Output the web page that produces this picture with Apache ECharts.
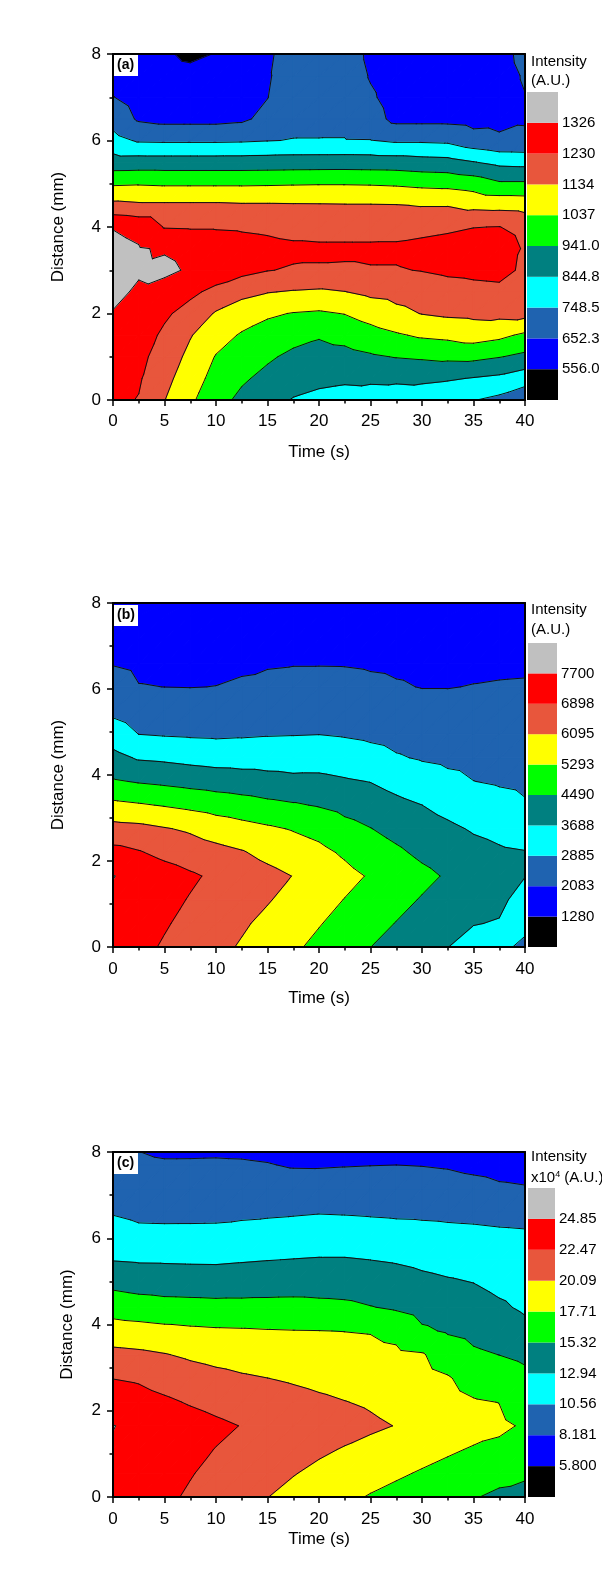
<!DOCTYPE html>
<html><head><meta charset="utf-8">
<script src="https://cdn.jsdelivr.net/npm/echarts@6.0.0/dist/echarts.min.js"></script>
<style>html,body{margin:0;padding:0;background:#fff}#chart{width:602px;height:1576px}</style>
</head><body><div id="chart"></div>
<script>
// ---------------- DATA ----------------
const timeS = [0,2.5,5,7.5,10,12.5,15,17.5,20,22.5,25,27.5,30,32.5,35,37.5,40];
const distanceA = [0,0.5,1,1.5,2,2.5,3,3.5,4,4.5,5,5.5,6,6.5,7,7.5,8];
const distanceBC = [0,0.55,1.1,1.65,2.2,2.75,3.3,3.85,4.4,4.95,5.5,6.05,6.6,7.15,7.7,8];

// each inner array: one time column, values along distance (bottom -> top)
const intensityA = [
[1250,1265,1280,1300,1322,1345,1362,1352,1322,1160,1025,886,780,712,655,625,600],
[1226,1240,1255,1275,1295,1315,1335,1332,1300,1150,1030,888,738,640,612,592,572],
[1136,1162,1188,1213,1245,1290,1345,1318,1225,1150,1025,888,735,625,605,578,563],
[1053,1082,1110,1140,1195,1250,1315,1300,1222,1150,1025,888,735,625,600,572,545],
[977,1005,1032,1075,1125,1205,1285,1285,1222,1150,1025,888,735,625,603,578,558],
[918,955,993,1028,1085,1160,1258,1270,1218,1145,1025,888,738,635,615,600,590],
[873,915,955,1000,1050,1138,1233,1260,1210,1145,1027,890,745,680,650,640,628],
[840,878,920,973,1033,1127,1222,1250,1195,1143,1030,892,752,720,712,715,722],
[826,862,905,950,1025,1120,1222,1245,1195,1142,1032,893,752,722,718,720,725],
[820,855,912,970,1040,1132,1220,1245,1195,1140,1032,894,752,725,718,715,712],
[810,858,930,1000,1075,1155,1225,1245,1195,1140,1030,892,751,690,665,645,630],
[800,860,945,1027,1110,1165,1225,1245,1198,1138,1025,890,735,628,615,607,600],
[785,865,953,1050,1137,1180,1233,1255,1205,1130,1015,880,735,628,615,605,600],
[770,855,962,1060,1150,1195,1245,1265,1215,1130,1010,875,730,628,612,603,598],
[752,840,965,1080,1155,1205,1250,1275,1228,1110,995,848,690,620,612,603,600],
[725,825,945,1060,1160,1210,1255,1278,1232,1105,955,820,670,625,618,620,625],
[680,790,920,1020,1165,1195,1215,1220,1200,1100,955,815,668,645,650,660,675]
];
const intensityB = [
[7350,7473,7597,7720,7140,6363,5482,4574,3933,3261,2717,2361,2049,1892,1735,1650],
[7088,7219,7350,7481,6955,6302,5369,4430,3608,2878,2491,2104,1960,1830,1700,1630],
[6824,6963,7103,7242,6697,6145,5242,4332,3545,2824,2454,2080,1950,1830,1700,1620],
[6560,6708,6855,7003,6505,5985,5105,4223,3449,2787,2429,2070,1945,1825,1700,1620],
[6296,6454,6612,6770,6323,5740,4956,4130,3370,2763,2426,2090,1950,1830,1705,1630],
[6022,6195,6367,6540,6152,5564,4832,4048,3351,2797,2472,2148,2000,1860,1730,1650],
[5718,5916,6150,6311,5886,5406,4680,3955,3347,2837,2543,2249,2024,1890,1755,1680],
[5414,5635,5857,6078,5671,5244,4564,3876,3327,2855,2577,2300,2050,1900,1765,1690],
[5108,5337,5565,5794,5484,5055,4439,3873,3358,2875,2596,2316,2050,1900,1765,1690],
[4799,5036,5273,5510,5185,4730,4258,3768,3268,2823,2558,2294,2045,1900,1760,1690],
[4495,4739,4983,5227,4868,4510,4093,3669,3137,2746,2482,2217,2010,1880,1750,1680],
[4226,4468,4710,4952,4618,4255,3875,3438,2947,2657,2396,2135,1980,1860,1740,1680],
[3962,4200,4439,4677,4337,4012,3690,3233,2825,2572,2318,2065,1950,1840,1730,1670],
[3699,3937,4174,4412,4117,3822,3463,3050,2748,2519,2291,2065,1945,1835,1725,1665],
[3377,3720,3904,4167,3904,3622,3257,2892,2692,2495,2298,2101,1960,1840,1720,1660],
[3054,3640,3850,3923,3771,3510,3120,2816,2644,2471,2299,2127,1975,1845,1720,1655],
[2730,3068,3393,3705,3715,3391,2949,2754,2600,2446,2293,2139,1990,1855,1725,1655]
];
const intensityC = [ // x10^4
[24.27,24.48,24.69,24.9,23.69,22.44,20.72,18.75,16.73,14.78,12.85,11.59,10.42,9.62,8.83,8.40],
[23.58,23.85,24.13,24.4,23.35,22.2,20.52,18.57,16.41,14.43,12.71,11.16,10.08,9.30,8.53,8.20],
[22.89,23.23,23.56,23.9,22.84,21.57,20.19,18.33,16.16,14.29,12.69,11.13,10.04,9.21,8.39,7.95],
[22.19,22.59,22.99,23.39,22.29,21.07,19.76,18.13,16.08,14.25,12.64,11.13,10.05,9.23,8.40,7.95],
[21.45,21.93,22.41,22.89,21.83,20.69,19.42,17.99,15.99,14.2,12.62,11.15,10.07,9.24,8.42,7.98],
[20.81,21.34,21.88,22.41,21.38,20.35,19.17,17.93,15.98,14.27,12.76,11.34,10.16,9.27,8.39,7.93],
[20.12,20.75,21.38,22.01,21.06,20.11,18.97,17.83,15.99,14.36,12.89,11.51,10.25,9.26,8.27,7.80],
[19.47,20.19,20.9,21.62,20.76,19.86,18.81,17.77,16.01,14.43,12.99,11.65,10.35,9.18,8.02,7.55],
[18.82,19.62,20.42,21.22,20.44,19.58,18.66,17.74,15.89,14.41,13.08,11.77,10.47,9.24,8.0,7.5],
[18.18,19.06,19.95,20.83,20.14,19.33,18.51,17.68,15.77,14.35,13.08,11.74,10.41,9.24,8.08,7.55],
[17.56,18.52,19.48,20.44,19.85,19.12,18.4,17.59,15.4,14.15,12.93,11.6,10.32,9.23,8.14,7.6],
[17.03,18.03,19.03,20.03,19.41,18.79,18.16,17.07,15.03,13.9,12.75,11.44,10.23,9.2,8.18,7.65],
[16.5,17.51,18.53,19.54,18.99,18.45,17.9,15.66,14.46,13.5,12.46,11.3,10.19,9.16,8.12,7.6],
[15.97,17.0,18.02,19.05,18.47,17.9,16.59,15.1,14.16,13.21,12.2,11.16,10.12,9.05,7.99,7.45],
[15.45,16.49,17.52,18.56,17.9,16.86,15.67,14.7,13.83,12.96,12.02,11.09,10.04,8.84,7.7,7.2],
[14.92,15.97,17.3,18.06,17.68,16.46,15.3,14.29,13.26,12.43,11.7,10.96,9.91,8.47,7.5,7.05],
[14.3,15.8,16.8,17.5,16.68,15.87,14.88,13.55,12.62,12.04,11.45,10.87,9.84,8.32,7.4,7.0]
];
const levelsA = [556.0,652.3,748.5,844.8,941.0,1037,1134,1230,1326];
const levelLabelsA = ['556.0','652.3','748.5','844.8','941.0','1037','1134','1230','1326'];
const levelsB = [1280,2083,2885,3688,4490,5293,6095,6898,7700];
const levelLabelsB = ['1280','2083','2885','3688','4490','5293','6095','6898','7700'];
const levelsC = [5.800,8.181,10.56,12.94,15.32,17.71,20.09,22.47,24.85];
const levelLabelsC = ['5.800','8.181','10.56','12.94','15.32','17.71','20.09','22.47','24.85'];
const panelTags = ['(a)','(b)','(c)'];
const unitTexts = ['{n|(A.U.)}','{n|(A.U.)}','{n|x10}{s|4}{n| (A.U.)}'];
const bandColors = ['#000000','#0000ff','#1f63b0','#00ffff','#008080','#00ff00','#ffff00','#e8563c','#ff0000','#c0c0c0'];

// ---------------- LAYOUT ----------------
const FONT = "'Liberation Sans', Arial, sans-serif";
const layout = [
 {top:54, height:346, cbLeft:527, cbWidth:31, cbTop:92, cbHeight:308, textTop:54, unitTop:73, xNameGap:44, yNameGap:46, xLabelMargin:13, tagTop:55},
 {top:603, height:344, cbLeft:528, cbWidth:29, cbTop:643, cbHeight:304, textTop:602, unitTop:622, xNameGap:43, yNameGap:46, xLabelMargin:14, tagTop:605},
 {top:1152, height:345, cbLeft:528, cbWidth:27, cbTop:1188, cbHeight:309, textTop:1149, unitTop:1170, xNameGap:34, yNameGap:37, xLabelMargin:14, tagTop:1153}
];
const panels = [
 {times:timeS, dists:distanceA, z:intensityA, levels:levelsA, labels:levelLabelsA},
 {times:timeS, dists:distanceBC, z:intensityB, levels:levelsB, labels:levelLabelsB},
 {times:timeS, dists:distanceBC, z:intensityC, levels:levelsC, labels:levelLabelsC}
];

// ---------------- CONTOUR HELPERS ----------------
function bandIndex(v, levels){ let k=0; while(k<levels.length && v>=levels[k]) k++; return k; }
function clip(poly, c, s){
  const out=[];
  for(let n=0;n<poly.length;n++){
    const A=poly[n], B=poly[(n+1)%poly.length];
    const da=s*(A.f-c), db=s*(B.f-c);
    if(da>=0) out.push(A);
    if((da>=0)!==(db>=0)){ const t=da/(da-db); out.push({x:A.x+t*(B.x-A.x), y:A.y+t*(B.y-A.y), f:c}); }
  }
  return out;
}
function triangles(P, i, j){
  const V=(a,b)=>({x:P.times[a], y:P.dists[b], f:P.z[a][b]});
  return [[V(i,j),V(i+1,j),V(i+1,j+1)],[V(i,j),V(i+1,j+1),V(i,j+1)]];
}
function cells(P){
  const out=[];
  for(let i=0;i<P.times.length-1;i++) for(let j=0;j<P.dists.length-1;j++) out.push([P.times[i],P.dists[j],i,j]);
  return out;
}
function fillRender(P){
  return function(params, api){
    const i=api.value(2), j=api.value(3), children=[];
    triangles(P,i,j).forEach(tri=>{
      const fs=tri.map(p=>p.f);
      const k0=bandIndex(Math.min.apply(null,fs),P.levels), k1=bandIndex(Math.max.apply(null,fs),P.levels);
      for(let k=k0;k<=k1;k++){
        let poly=tri;
        if(k>0) poly=clip(poly,P.levels[k-1],1);
        if(k<P.levels.length) poly=clip(poly,P.levels[k],-1);
        if(poly.length<3) continue;
        children.push({type:'polygon', shape:{points:poly.map(p=>api.coord([p.x,p.y]))},
          style:{fill:bandColors[k], stroke:bandColors[k], lineWidth:1.1, lineJoin:'round'}});
      }
    });
    return {type:'group', children};
  };
}
function lineRender(P){
  return function(params, api){
    const i=api.value(2), j=api.value(3), children=[];
    triangles(P,i,j).forEach(tri=>{
      P.levels.forEach(L=>{
        const pts=[];
        for(let n=0;n<3;n++){
          const A=tri[n], B=tri[(n+1)%3];
          if((A.f<L)!==(B.f<L)){ const t=(L-A.f)/(B.f-A.f); pts.push(api.coord([A.x+t*(B.x-A.x), A.y+t*(B.y-A.y)])); }
        }
        if(pts.length===2) children.push({type:'line', shape:{x1:pts[0][0],y1:pts[0][1],x2:pts[1][0],y2:pts[1][1]},
          style:{stroke:'#111', lineWidth:1, lineCap:'round'}});
      });
    });
    return {type:'group', children};
  };
}

// ---------------- OPTION ----------------
const grid=[], xAxis=[], yAxis=[], series=[], graphic=[];
const axisLineStyle={onZero:false, lineStyle:{color:'#000', width:2}};
layout.forEach((L,p)=>{
  grid.push({left:113, width:412, top:L.top, height:L.height, outerBoundsMode:'none'});
});
layout.forEach((L,p)=>{
  grid.push({left:L.cbLeft, width:L.cbWidth, top:L.cbTop, height:L.cbHeight, outerBoundsMode:'none'});
});
layout.forEach((L,p)=>{
  xAxis.push({gridIndex:p, type:'value', min:0, max:40, interval:5, position:'bottom', z:10,
    axisLine:axisLineStyle,
    axisTick:{show:true, inside:false, length:6, lineStyle:{color:'#000', width:1.5}},
    minorTick:{show:true, splitNumber:2, length:3.5, lineStyle:{color:'#000', width:1.5}},
    splitLine:{show:false}, minorSplitLine:{show:false},
    axisLabel:{color:'#000', fontSize:17, fontFamily:FONT, margin:L.xLabelMargin},
    name:'Time (s)', nameLocation:'middle', nameGap:L.xNameGap,
    nameTextStyle:{color:'#000', fontSize:17, fontFamily:FONT}});
});
layout.forEach((L,p)=>{
  xAxis.push({gridIndex:p, type:'value', min:0, max:40, position:'top', z:10, axisLine:axisLineStyle,
    axisTick:{show:false}, axisLabel:{show:false}, splitLine:{show:false}});
});
layout.forEach((L,p)=>{
  xAxis.push({gridIndex:3+p, type:'category', data:['I'], show:false});
});
layout.forEach((L,p)=>{
  yAxis.push({gridIndex:p, type:'value', min:0, max:8, interval:2, position:'left', z:10,
    axisLine:axisLineStyle,
    axisTick:{show:true, inside:false, length:6, lineStyle:{color:'#000', width:1.5}},
    minorTick:{show:true, splitNumber:2, length:3.5, lineStyle:{color:'#000', width:1.5}},
    splitLine:{show:false}, minorSplitLine:{show:false},
    axisLabel:{color:'#000', fontSize:17, fontFamily:FONT, margin:12},
    name:'Distance (mm)', nameLocation:'middle', nameRotate:90, nameGap:L.yNameGap,
    nameTextStyle:{color:'#000', fontSize:17, fontFamily:FONT}});
});
layout.forEach((L,p)=>{
  yAxis.push({gridIndex:p, type:'value', min:0, max:8, position:'right', z:10, axisLine:axisLineStyle,
    axisTick:{show:false}, axisLabel:{show:false}, splitLine:{show:false}});
});
layout.forEach((L,p)=>{
  const labels=panels[p].labels;
  yAxis.push({gridIndex:3+p, type:'value', min:0, max:10, interval:1, position:'right',
    axisLine:{show:false}, axisTick:{show:false}, splitLine:{show:false},
    axisLabel:{color:'#000', fontSize:15, fontFamily:FONT, margin:4, padding:[5,0,0,0],
      formatter:v=>(v>=1&&v<=9)?labels[v-1]:''}});
});
panels.forEach((P,p)=>{
  const data=cells(P);
  series.push({type:'custom', xAxisIndex:p, yAxisIndex:p, data, encode:{x:0,y:1}, z:2, silent:true, renderItem:fillRender(P)});
  series.push({type:'custom', xAxisIndex:p, yAxisIndex:p, data, encode:{x:0,y:1}, z:3, silent:true, renderItem:lineRender(P)});
  bandColors.forEach((c,k)=>{
    series.push({type:'bar', xAxisIndex:6+p, yAxisIndex:6+p, stack:'cb'+p, data:[1], barWidth:'100%',
      itemStyle:{color:c}, silent:true});
  });
});
layout.forEach((L,p)=>{
  graphic.push({type:'text', left:531, top:L.textTop, z:100, style:{text:'Intensity', font:'15px '+FONT, fill:'#000'}});
  graphic.push({type:'text', left:531, top:L.unitTop, z:100, style:{text:unitTexts[p], fill:'#000',
    rich:{n:{fontSize:15, fontFamily:FONT, fill:'#000', color:'#000'}, s:{fontSize:9, fontFamily:FONT, color:'#000', fill:'#000', verticalAlign:'top', padding:[0,0,7,0]}}}});
  graphic.push({type:'rect', left:114, top:L.tagTop, z:100, shape:{width:24, height:21}, style:{fill:'#fff'}});
  graphic.push({type:'text', left:117, top:L.tagTop+3, z:101, style:{text:panelTags[p], font:'bold 14px '+FONT, fill:'#000'}});
});

const chart=echarts.init(document.getElementById('chart'), null, {renderer:'canvas'});
chart.setOption({animation:false, backgroundColor:'#fff', grid, xAxis, yAxis, series, graphic});
</script></body></html>
